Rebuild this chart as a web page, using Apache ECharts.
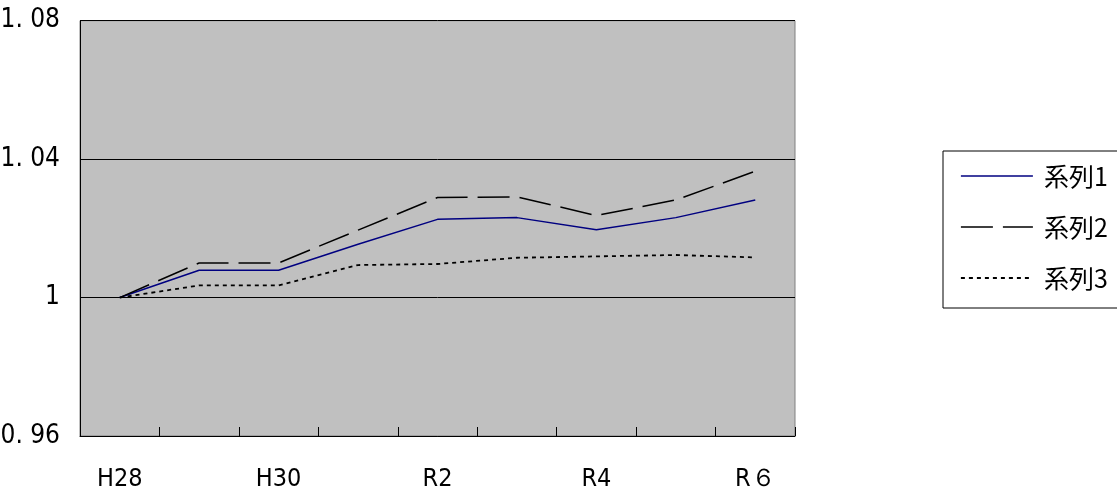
<!DOCTYPE html>
<html>
<head>
<meta charset="utf-8">
<script src="https://cdn.jsdelivr.net/npm/echarts@6/dist/echarts.min.js"></script>
<style>html,body{margin:0;padding:0;background:#fff;}#c{width:1117px;height:491px;}</style>
</head>
<body>
<div id="c"></div>
<script>
var categories = ['H28', 'H29', 'H30', 'R1', 'R2', 'R3', 'R4', 'R5', 'R６'];
var seriesNames = ['系列1', '系列2', '系列3'];
var series1 = [1.000, 1.0079, 1.0079, 1.0154, 1.0226, 1.0231, 1.0196, 1.0231, 1.0282];
var series2 = [1.000, 1.0100, 1.0100, 1.0195, 1.0289, 1.0291, 1.0237, 1.0282, 1.0365];
var series3 = [1.000, 1.0035, 1.0035, 1.0094, 1.0097, 1.0115, 1.0119, 1.0123, 1.0116];
var yTickLabels = ['0. 96', '1', '1. 04', '1. 08'];

var axisFont = "'Liberation Sans Narrow', 'DejaVu Sans Condensed', 'Liberation Sans', sans-serif";
var styles = [
  { color: '#000080', width: 1.5, type: 'solid' },
  { color: '#000000', width: 1.5, type: [32, 10] },
  { color: '#000000', width: 1.8, type: [4, 4] }
];
var chart = echarts.init(document.getElementById('c'));
chart.setOption({
  animation: false,
  backgroundColor: '#ffffff',
  grid: {
    left: 80, right: 322, top: 20.7, bottom: 55,
    containLabel: false, outerBoundsMode: 'none',
    show: true, backgroundColor: '#C0C0C0', borderColor: '#808080', borderWidth: 1
  },
  legend: {
    orient: 'vertical',
    left: 943, top: 151,
    padding: [10, 60, 15, 17],
    borderColor: '#000', borderWidth: 1,
    backgroundColor: '#fff',
    itemWidth: 72, itemHeight: 14, itemGap: 21,
    itemStyle: { opacity: 0 },
    textStyle: { fontFamily: "'Noto Sans CJK JP', sans-serif", fontSize: 25, color: '#000', lineHeight: 30, padding: [0, 0, 0, 6] },
    data: seriesNames.map(function (n, i) {
      return { name: n, itemStyle: { opacity: 0 }, lineStyle: { color: styles[i].color, width: styles[i].width, type: styles[i].type } };
    })
  },
  xAxis: {
    type: 'category',
    data: categories,
    boundaryGap: true,
    axisLine: { show: true, lineStyle: { color: '#000', width: 1 } },
    axisTick: { show: true, inside: true, length: 9, interval: 0, alignWithLabel: false, lineStyle: { color: '#000', width: 1 } },
    axisLabel: { interval: 1, margin: 31, fontFamily: axisFont, fontSize: 25, color: '#000' },
    splitLine: { show: false }
  },
  yAxis: {
    type: 'value',
    min: 0.96, max: 1.08, interval: 0.04,
    axisLine: { show: true, lineStyle: { color: '#000', width: 1 } },
    axisTick: { show: false },
    axisLabel: {
      margin: 20, fontFamily: axisFont, fontSize: 26, color: '#000',
      formatter: function (v) { return yTickLabels[Math.round((v - 0.96) / 0.04)]; }
    },
    splitLine: { show: true, lineStyle: { color: '#000', width: 1 } }
  },
  series: [
    { name: seriesNames[0], type: 'line', data: series1, symbol: 'none', z: 3, lineStyle: styles[0], itemStyle: { color: styles[0].color } },
    { name: seriesNames[1], type: 'line', data: series2, symbol: 'none', z: 3, lineStyle: styles[1], itemStyle: { color: styles[1].color } },
    { name: seriesNames[2], type: 'line', data: series3, symbol: 'none', z: 3, lineStyle: styles[2], itemStyle: { color: styles[2].color } }
  ]
});
</script>
</body>
</html>
